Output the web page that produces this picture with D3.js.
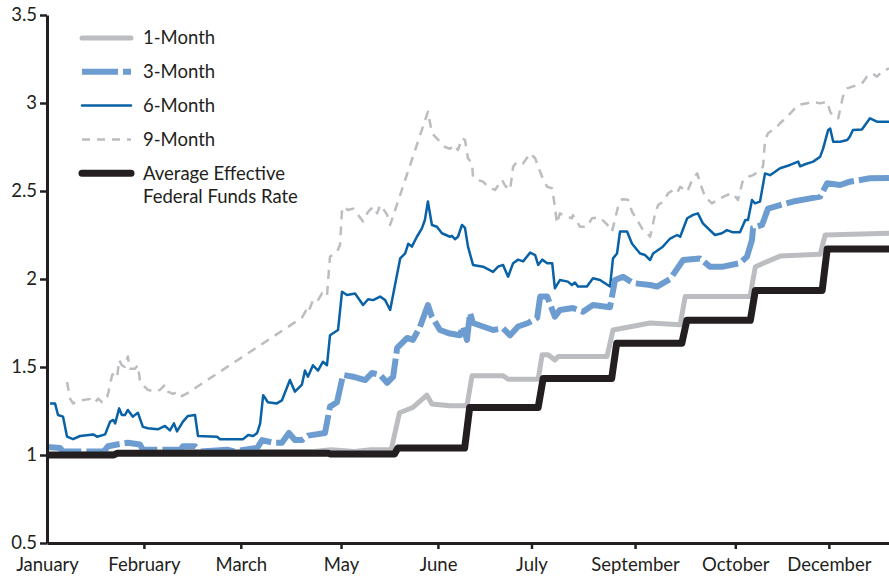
<!DOCTYPE html>
<html>
<head>
<meta charset="utf-8">
<script src="https://cdn.jsdelivr.net/npm/d3@7"></script>
<style>
  body { margin: 0; background: #fff; }
  svg { display: block; font-family: "Lato", "Open Sans", sans-serif; }
</style>
</head>
<body>
<svg id="chart"></svg>
<script>
// x positions are trading days from the start of January (0..252)
const tickDays = [0, 29, 58, 88, 117, 145, 176, 206, 234];
const tickLabels = ["January", "February", "March", "May", "June", "July", "September", "October", "December"];
const yTicks = [0.5, 1, 1.5, 2, 2.5, 3, 3.5];

// [day, rate]
const oneMonth = [[0,1.00],[20,1.01],[40,1.02],[80,1.02],[85,1.03],[92,1.02],[97,1.03],[103,1.03],[105.5,1.24],
  [109.5,1.27],[113.7,1.34],[115.2,1.29],[120.6,1.28],[125.7,1.28],[127.2,1.45],[136.5,1.45],[138,1.43],[147,1.43],
  [148.2,1.57],[150,1.57],[152,1.54],[153,1.56],[167.6,1.56],[169.4,1.71],[175,1.73],[180.5,1.75],[189.5,1.74],
  [191,1.90],[210.4,1.90],[212,2.07],[219.4,2.13],[231.4,2.14],[232.9,2.25],[252,2.26]];

const threeMonth = [[0,1.045],[3.9,1.04],[4.8,1.02],[17,1.02],[18.3,1.05],[21,1.06],[24.2,1.07],[27.8,1.06],
  [28.7,1.03],[40,1.03],[40.7,1.05],[44.3,1.05],[46,1.02],[53.9,1.03],[56,1.02],[62.9,1.04],[64.4,1.085],
  [67.6,1.07],[70.3,1.07],[72.4,1.125],[74.2,1.085],[76.3,1.085],[78.1,1.11],[83.2,1.125],[84.7,1.275],
  [86.8,1.30],[88.6,1.455],[91.6,1.445],[95.2,1.426],[97.3,1.466],[99.7,1.455],[101.8,1.41],[103.6,1.445],
  [104.8,1.608],[107.8,1.665],[109.5,1.654],[111.6,1.727],[114,1.852],[115.2,1.786],[117.6,1.71],[120.6,1.69],
  [123.6,1.68],[124.5,1.73],[125.7,1.654],[126.6,1.807],[127.5,1.75],[130.5,1.73],[133.5,1.71],[136.5,1.72],
  [138.6,1.68],[141,1.73],[144,1.75],[146.7,1.78],[147.6,1.90],[149.7,1.90],[152,1.786],[153.5,1.824],
  [157.4,1.835],[160.4,1.814],[163.4,1.852],[168.5,1.84],[170,1.994],[172.4,2.013],[175.4,1.977],[180.5,1.966],
  [182.6,1.957],[186.5,2.0],[190.4,2.108],[195.4,2.117],[198.4,2.07],[202.3,2.07],[207.4,2.09],[209.5,2.127],
  [211,2.222],[211.3,2.29],[214,2.307],[215.8,2.40],[219.4,2.42],[223.3,2.44],[231.4,2.468],[233.5,2.544],
  [237.4,2.534],[240.3,2.553],[246.3,2.572],[252,2.574]];

const sixMonth = [[0.9,1.293],[2.4,1.293],[3.3,1.227],[4.8,1.218],[6,1.104],[7.8,1.09],[9.9,1.108],[13.8,1.117],
  [15,1.104],[17.4,1.117],[18.9,1.19],[19.8,1.199],[20.4,1.18],[21.6,1.265],[22.4,1.227],[23.3,1.227],[24.2,1.256],
  [25.7,1.218],[27.2,1.24],[28.7,1.16],[30.2,1.152],[33.2,1.146],[35.3,1.165],[36.8,1.14],[38,1.18],[38.9,1.134],
  [40.7,1.19],[42.2,1.222],[44.3,1.227],[45.2,1.108],[50.9,1.104],[51.8,1.09],[58.7,1.09],[60.2,1.114],[61.7,1.108],
  [62.9,1.125],[63.8,1.18],[64.7,1.34],[66.1,1.30],[68.8,1.293],[70.3,1.31],[72.7,1.426],[74.2,1.36],[76.3,1.40],
  [77.2,1.48],[78.1,1.445],[79.6,1.51],[81.1,1.48],[82.6,1.53],[83.8,1.51],[84.7,1.68],[87.1,1.71],[88.3,1.928],
  [89.8,1.909],[92.2,1.918],[94.6,1.852],[96.1,1.885],[97.6,1.88],[99.7,1.90],[101.2,1.88],[102.7,1.824],
  [105.7,2.117],[107.2,2.145],[108.1,2.20],[109.2,2.184],[110.7,2.24],[112.2,2.288],[113.1,2.335],[114,2.44],
  [115.2,2.307],[116.7,2.297],[118.2,2.26],[120.6,2.24],[121.2,2.245],[122.1,2.226],[123,2.24],[124.2,2.307],
  [125.1,2.29],[126,2.184],[127.5,2.08],[130.5,2.07],[133.5,2.04],[135,2.07],[136.5,2.08],[138,2.013],[139.5,2.09],
  [141,2.11],[142.5,2.10],[144.6,2.15],[146.1,2.136],[147,2.08],[148.2,2.11],[149.7,2.09],[151.2,2.09],[152,1.947],
  [153.5,1.994],[155.9,1.985],[157.1,1.966],[158,1.98],[158.9,1.957],[161.6,1.957],[163.4,2.004],[165.5,1.994],
  [168.5,1.957],[169.4,2.117],[170.6,2.145],[171.5,2.27],[173.6,2.27],[175.1,2.20],[177.5,2.145],[179,2.136],
  [180.5,2.108],[181.4,2.145],[184.1,2.18],[186.5,2.23],[188.6,2.25],[189.5,2.24],[191.6,2.345],[193.4,2.364],
  [194.8,2.373],[196.3,2.316],[199.9,2.25],[202,2.26],[203.5,2.278],[205.3,2.265],[207.4,2.265],[209,2.335],
  [209.8,2.335],[211,2.449],[211.9,2.43],[213.4,2.44],[214.9,2.60],[216.4,2.59],[219.4,2.629],[222.4,2.648],
  [224.8,2.667],[225.4,2.64],[226.9,2.652],[229.3,2.667],[231.4,2.695],[232.3,2.742],[233.8,2.847],[234.4,2.855],
  [235.3,2.78],[237.4,2.78],[239.5,2.79],[240.3,2.81],[241.2,2.847],[243.9,2.85],[246.3,2.913],[248.4,2.894],
  [252,2.894]];

const nineMonth = [[6,1.415],[6.9,1.32],[7.8,1.293],[9.9,1.31],[13.5,1.32],[14.4,1.30],[15.3,1.32],[16.5,1.30],
  [18,1.33],[18.3,1.35],[19.5,1.455],[20.4,1.465],[21,1.445],[21.6,1.54],[22.4,1.51],[23.3,1.50],[24.2,1.56],
  [24.8,1.49],[26.3,1.49],[27.2,1.51],[27.8,1.426],[28.7,1.398],[30.2,1.37],[32.3,1.36],[33.8,1.37],[35.3,1.398],
  [36.2,1.36],[37.7,1.347],[39.2,1.36],[40.4,1.335],[41.9,1.35],[76.3,1.78],[77.5,1.82],[78.1,1.805],[79.6,1.88],
  [80.8,1.87],[82.3,1.918],[83.8,1.90],[84.1,1.985],[84.7,2.127],[86.8,2.155],[87.7,2.193],[88.3,2.392],
  [88.6,2.41],[90.1,2.392],[91.6,2.40],[93.1,2.364],[94.6,2.326],[96.1,2.382],[97.6,2.41],[98.8,2.373],
  [99.7,2.42],[100.6,2.40],[101.8,2.364],[102.7,2.307],[114,2.95],[115.2,2.83],[116.1,2.81],[117.6,2.78],
  [119.1,2.75],[120.6,2.74],[122.1,2.761],[123,2.733],[124.2,2.80],[125.1,2.79],[126,2.686],[127.2,2.657],
  [127.5,2.58],[128.7,2.563],[130.5,2.553],[132,2.524],[134.1,2.506],[136.2,2.563],[137.1,2.53],[138.6,2.506],
  [139.5,2.638],[140.7,2.667],[142.5,2.657],[144.6,2.714],[146.1,2.686],[147,2.638],[148.2,2.58],[149.7,2.524],
  [151.2,2.515],[152,2.41],[152.6,2.316],[153.5,2.373],[155.6,2.354],[157.1,2.345],[157.4,2.363],[159.5,2.297],
  [161.6,2.297],[163.1,2.345],[165.5,2.35],[167.6,2.31],[169.1,2.27],[170.9,2.41],[172.1,2.453],[173.9,2.45],
  [175.1,2.382],[176.9,2.326],[178.4,2.278],[179.6,2.26],[180.5,2.24],[181.1,2.288],[182,2.373],[182.9,2.42],
  [184.4,2.44],[185.9,2.487],[187.4,2.506],[188.6,2.49],[189.5,2.524],[191.6,2.496],[193.1,2.563],[194.6,2.60],
  [195.5,2.544],[196.9,2.468],[199,2.43],[201.4,2.458],[203.5,2.477],[205.3,2.487],[206.8,2.449],[208.3,2.563],
  [209.8,2.58],[211.3,2.59],[212.8,2.61],[214.3,2.638],[214.9,2.79],[215.8,2.828],[218.5,2.865],[219.4,2.885],
  [222.4,2.94],[224.8,2.989],[227.5,2.998],[229.3,3.007],[231.4,2.998],[233.5,3.007],[234.4,2.95],[235.3,2.922],
  [236.8,2.913],[238.2,3.036],[239.5,3.083],[241,3.093],[242.4,3.10],[243.9,3.11],[245.4,3.15],[246.9,3.169],
  [248.4,3.15],[249.9,3.178],[252,3.197]];

const fedFunds = [[0,1.0],[20,1.0],[21,1.01],[84,1.01],[85,1.005],[104,1.005],[105,1.04],[125,1.04],[126.5,1.27],
  [147,1.27],[148.5,1.435],[169,1.435],[170.5,1.635],[190,1.635],[191.5,1.765],[210.5,1.765],[212,1.935],
  [232,1.935],[233.5,2.17],[252,2.17]];

const width = 889, height = 577;
const margin = {top: 15, right: 0, bottom: 34, left: 47};
const fontSize = "18.5px";

const svg = d3.select("#chart")
  .attr("width", width)
  .attr("height", height);

const xScale = d3.scaleLinear()
  .domain([0, 252])
  .range([margin.left, width - margin.right]);

const yScale = d3.scaleLinear()
  .domain([0.5, 3.5])
  .range([height - margin.bottom, margin.top]);

const line = d3.line()
  .x(d => xScale(d[0]))
  .y(d => yScale(d[1]));

// series styles, in drawing order
const series = [
  {name: "9-Month", data: nineMonth, color: "#bcbdc1", width: 2.5, dash: "9,7"},
  {name: "6-Month", data: sixMonth, color: "#0a62a6", width: 2.5, dash: null},
  {name: "1-Month", data: oneMonth, color: "#bcbdc1", width: 5, dash: null},
  {name: "3-Month", data: threeMonth, color: "#6d9dd0", width: 6, dash: "36,5"},
  {name: "Average Effective Federal Funds Rate", data: fedFunds, color: "#231f20", width: 7, dash: null}
];

svg.selectAll("path.series")
  .data(series)
  .enter().append("path")
  .attr("class", "series")
  .attr("d", d => line(d.data))
  .attr("fill", "none")
  .attr("stroke", d => d.color)
  .attr("stroke-width", d => d.width)
  .attr("stroke-dasharray", d => d.dash)
  .attr("stroke-linejoin", "round");

// axes
const xAxis = svg.append("g")
  .attr("transform", `translate(0,${height - margin.bottom})`)
  .call(d3.axisBottom(xScale)
    .tickValues(tickDays)
    .tickFormat((d, i) => tickLabels[i])
    .tickSize(6)
    .tickSizeOuter(0));

const yAxis = svg.append("g")
  .attr("transform", `translate(${margin.left},0)`)
  .call(d3.axisLeft(yScale)
    .tickValues(yTicks)
    .tickFormat(d3.format(""))
    .tickSize(7)
    .tickSizeOuter(0));

[xAxis, yAxis].forEach(ax => {
  ax.select(".domain").attr("stroke", "#231f20").attr("stroke-width", 3);
  ax.selectAll(".tick line").attr("stroke", "#231f20").attr("stroke-width", 2.5);
  ax.selectAll(".tick text")
    .attr("fill", "#231f20")
    .style("font-size", fontSize)
    .style("font-family", "Lato, 'Open Sans', sans-serif");
});
xAxis.selectAll(".tick text").attr("y", 9).attr("dy", "1.0em");
yAxis.selectAll(".tick text").attr("x", -10);
// January sits on the y axis: no separate tick mark
xAxis.selectAll(".tick line").filter(d => d === 0).remove();

// legend
const legendOrder = [series[2], series[3], series[1], series[0], series[4]];
const legend = svg.selectAll(".legend")
  .data(legendOrder)
  .enter().append("g")
  .attr("class", "legend")
  .attr("transform", (d, i) => "translate(0," + (38 + i * 33.8) + ")");

legend.append("line")
  .attr("x1", 82)
  .attr("x2", 131)
  .attr("stroke", d => d.color)
  .attr("stroke-width", d => d.width)
  .attr("stroke-dasharray", d => d.dash === "9,7" ? "8,7" : d.dash)
  .attr("stroke-linecap", d => d.dash ? "butt" : "round");

legend.append("text")
  .attr("x", 143)
  .attr("y", 0)
  .attr("fill", "#231f20")
  .style("font-size", fontSize)
  .each(function(d) {
    const words = d.name === "Average Effective Federal Funds Rate"
      ? ["Average Effective", "Federal Funds Rate"] : [d.name];
    d3.select(this).selectAll("tspan")
      .data(words)
      .enter().append("tspan")
      .attr("x", 143)
      .attr("dy", (w, i) => i === 0 ? "0.35em" : "1.25em")
      .text(w => w);
  });
</script>
</body>
</html>
